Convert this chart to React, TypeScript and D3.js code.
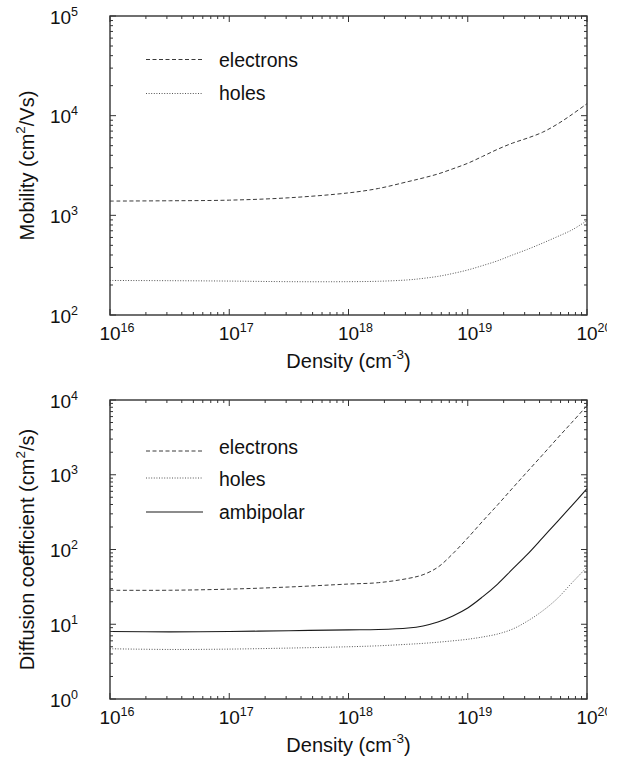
import React from "react";
import * as d3 from "d3";

// Density (cm^-3) sample points
const density = [1e16, 3.16e16, 1e17, 3.16e17, 1e18, 1.78e18, 3.16e18, 4.22e18, 5.62e18, 7.5e18, 1e19, 1.33e19, 1.78e19, 2.37e19, 3.16e19, 4.22e19, 5.62e19, 7.5e19, 1e20];

// Mobility (cm^2/Vs)
const mobilityElectrons = [1390, 1400, 1420, 1500, 1680, 1860, 2180, 2370, 2600, 2930, 3330, 3900, 4600, 5300, 5950, 6800, 8200, 10300, 13200];
const mobilityHoles = [222, 221, 219, 216, 216, 218, 225, 233, 244, 261, 283, 313, 350, 400, 455, 525, 610, 715, 885];

// Diffusion coefficient (cm^2/s)
const diffElectrons = [28.5, 28.5, 29.5, 31.5, 34.5, 36, 41, 46, 58, 88, 143, 238, 395, 660, 1100, 1830, 3050, 5050, 8400];
const diffHoles = [4.7, 4.6, 4.65, 4.8, 5.0, 5.15, 5.4, 5.55, 5.75, 6.0, 6.3, 6.75, 7.4, 8.6, 11.0, 15.0, 22.0, 36, 58];
const diffAmbipolar = [8.0, 7.9, 8.0, 8.2, 8.4, 8.5, 8.9, 9.5, 10.7, 12.9, 16.5, 23.2, 34.5, 54.5, 86, 142, 235, 390, 650];

const xTickExps = [16, 17, 18, 19, 20];
const mobilityTickExps = [2, 3, 4, 5];
const diffTickExps = [0, 1, 2, 3, 4];

const topLegend = ["electrons", "holes"];
const bottomLegend = ["electrons", "holes", "ambipolar"];

const FONT = "'Liberation Sans', Arial, Helvetica, sans-serif";
const STYLES: Record<string, { dash: string; color: string; width: number }> = {
  electrons: { dash: "4,2.5", color: "#3a3a3a", width: 1 },
  holes: { dash: "1,1.6", color: "#555", width: 1 },
  ambipolar: { dash: "", color: "#1a1a1a", width: 1.1 },
};

const X0 = 110, X1 = 587;

function Panel({ top, bottom, yDomain, yTickExps, series, legend, legendYs, legendBase, yTitle, yTitleSup, yTitleEnd }: any) {
  const x = d3.scaleLog().domain([1e16, 1e20]).range([X0, X1]);
  const y = d3.scaleLog().domain(yDomain).range([bottom, top]);
  const line = d3
    .line<[number, number]>()
    .x((d) => x(d[0]))
    .y((d) => y(d[1]))
    .curve(d3.curveCatmullRom.alpha(0.5));

  const xt = x.ticks();
  const yt = y.ticks();
  const isMajor = (v: number) => Math.abs(Math.log10(v) - Math.round(Math.log10(v))) < 1e-6;
  const frameColor = "#333";
  const tickEls: any[] = [];
  xt.forEach((v, i) => {
    const L = isMajor(v) ? 6 : 3;
    const px = x(v);
    tickEls.push(<line key={"xb" + i} x1={px} x2={px} y1={bottom} y2={bottom - L} stroke={frameColor} strokeWidth={1} />);
    tickEls.push(<line key={"xt" + i} x1={px} x2={px} y1={top} y2={top + L} stroke={frameColor} strokeWidth={1} />);
  });
  yt.forEach((v, i) => {
    const L = isMajor(v) ? 6 : 3;
    const py = y(v);
    tickEls.push(<line key={"yl" + i} x1={X0} x2={X0 + L} y1={py} y2={py} stroke={frameColor} strokeWidth={1} />);
    tickEls.push(<line key={"yr" + i} x1={X1} x2={X1 - L} y1={py} y2={py} stroke={frameColor} strokeWidth={1} />);
  });

  const midY = (top + bottom) / 2;
  return (
    <g>
      {series.map((s: any) => (
        <path
          key={s.name}
          d={line(density.map((d, i) => [d, s.values[i]]) as [number, number][]) || ""}
          fill="none"
          stroke={STYLES[s.name].color}
          strokeWidth={STYLES[s.name].width}
          strokeDasharray={STYLES[s.name].dash}
        />
      ))}
      {tickEls}
      <rect x={X0} y={top} width={X1 - X0} height={bottom - top} fill="none" stroke={frameColor} strokeWidth={1.4} />
      {xTickExps.map((e) => (
        <text key={"xl" + e} x={x(Math.pow(10, e)) - 10.6} y={bottom + 25} fontFamily={FONT} fontSize={19} fill="#111">
          10
          <tspan dy={-8} fontSize={12.5}>{e}</tspan>
        </text>
      ))}
      {yTickExps.map((e: number) => (
        <text key={"yl" + e} x={78} y={y(Math.pow(10, e)) + 7.5} fontFamily={FONT} fontSize={19} fill="#111" textAnchor="end">
          10
          <tspan dy={-8} fontSize={12.5}>{e}</tspan>
        </text>
      ))}
      <text x={(X0 + X1) / 2} y={bottom + 53} fontFamily={FONT} fontSize={20} fill="#111" textAnchor="middle">
        Density (cm
        <tspan dy={-9} fontSize={13.5}>-3</tspan>
        <tspan dy={9}>)</tspan>
      </text>
      <text transform={`translate(33.5,${midY}) rotate(-90)`} fontFamily={FONT} fontSize={20} fill="#111" textAnchor="middle">
        {yTitle}
        <tspan dy={-9} fontSize={13.5}>{yTitleSup}</tspan>
        <tspan dy={9}>{yTitleEnd}</tspan>
      </text>
      {legend.map((name: string, i: number) => (
        <g key={"lg" + name}>
          <line x1={146} x2={203} y1={legendYs[i]} y2={legendYs[i]} stroke={STYLES[name].color} strokeWidth={STYLES[name].width} strokeDasharray={STYLES[name].dash} />
          <text x={219} y={legendBase[i]} fontFamily={FONT} fontSize={19.5} fill="#111">{name}</text>
        </g>
      ))}
    </g>
  );
}

export default function App() {
  return (
    <svg width={607} height={762} style={{ position: "absolute", left: 0, top: 0, background: "#fff" }}>
      <rect x={0} y={0} width={607} height={762} fill="#fff" />
      <Panel
        top={16}
        bottom={315}
        yDomain={[1e2, 1e5]}
        yTickExps={mobilityTickExps}
        series={[
          { name: "electrons", values: mobilityElectrons },
          { name: "holes", values: mobilityHoles },
        ]}
        legend={topLegend}
        legendYs={[59.5, 93.5]}
        legendBase={[66.5, 100]}
        yTitle="Mobility (cm"
        yTitleSup="2"
        yTitleEnd="/Vs)"
      />
      <Panel
        top={400}
        bottom={699}
        yDomain={[1e0, 1e4]}
        yTickExps={diffTickExps}
        series={[
          { name: "electrons", values: diffElectrons },
          { name: "holes", values: diffHoles },
          { name: "ambipolar", values: diffAmbipolar },
        ]}
        legend={bottomLegend}
        legendYs={[451, 478, 512]}
        legendBase={[453.5, 486, 518.5]}
        yTitle="Diffusion coefficient (cm"
        yTitleSup="2"
        yTitleEnd="/s)"
      />
    </svg>
  );
}
